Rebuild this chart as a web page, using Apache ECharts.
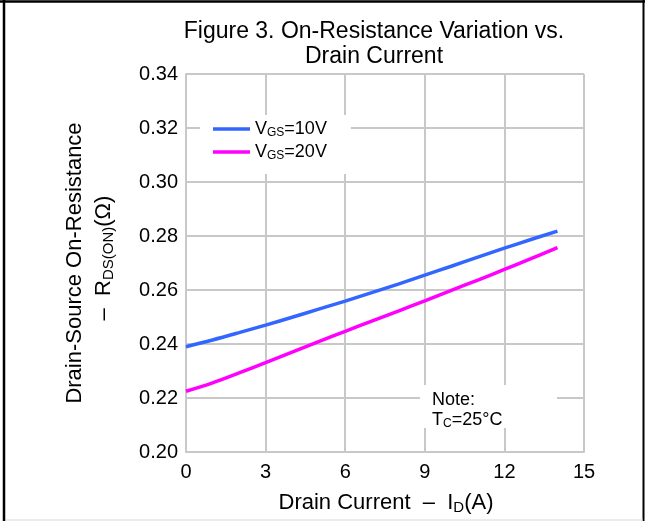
<!DOCTYPE html>
<html>
<head>
<meta charset="utf-8">
<script src="https://cdn.jsdelivr.net/npm/echarts@6/dist/echarts.min.js"></script>
<style>
html,body{margin:0;padding:0;background:#fff;}
#chart{width:645px;height:521px;}
</style>
</head>
<body>
<div id="chart"></div>
<script>
// ---- data ----
var currentA = [0, 1, 2, 3, 4, 5, 6, 7, 8, 9, 10, 11, 12, 13, 14];
var rdsVgs10 = [0.2390, 0.2415, 0.2442, 0.2470, 0.2499, 0.2529, 0.2559, 0.2590, 0.2622, 0.2655, 0.2688, 0.2722, 0.2755, 0.2787, 0.2818];
var rdsVgs20 = [0.2225, 0.2256, 0.2293, 0.2331, 0.2370, 0.2409, 0.2447, 0.2485, 0.2522, 0.2560, 0.2599, 0.2637, 0.2676, 0.2716, 0.2757];
var seriesNames = ['VGS=10V', 'VGS=20V'];
var xTicks = [0, 3, 6, 9, 12, 15];
var yTicks = [0.20, 0.22, 0.24, 0.26, 0.28, 0.30, 0.32, 0.34];

function pairs(xs, ys) { return xs.map(function (x, i) { return [x, ys[i]]; }); }

var FONT = '"Liberation Sans", Arial, sans-serif';
var chart = echarts.init(document.getElementById('chart'), null, { renderer: 'canvas' });

var gridColor = '#c8c8c8';

var option = {
  backgroundColor: '#ffffff',
  animation: false,
  grid: { left: 186, right: 61, top: 74, bottom: 69, containLabel: false },
  xAxis: {
    type: 'value',
    min: xTicks[0], max: xTicks[xTicks.length - 1], interval: 3,
    axisLine: { show: true, lineStyle: { color: gridColor, width: 2 } },
    axisTick: { show: false },
    splitLine: { show: true, lineStyle: { color: gridColor, width: 2 } },
    axisLabel: { color: '#000', fontFamily: FONT, fontSize: 20, margin: 10 }
  },
  yAxis: {
    type: 'value',
    min: yTicks[0], max: yTicks[yTicks.length - 1], interval: 0.02,
    axisLine: { show: true, lineStyle: { color: gridColor, width: 2 } },
    axisTick: { show: false },
    splitLine: { show: true, lineStyle: { color: gridColor, width: 2 } },
    axisLabel: { color: '#000', fontFamily: FONT, fontSize: 20, margin: 8,
      formatter: function (v) { return v.toFixed(2); } }
  },
  legend: {
    orient: 'vertical',
    left: 200, top: 115,
    padding: [5, 24, 12, 13],
    backgroundColor: '#ffffff',
    icon: 'rect',
    itemWidth: 37, itemHeight: 3.5, itemGap: 4,
    data: seriesNames,
    formatter: function (name) {
      return '{n|V}{s|GS}{n|' + name.slice(3) + '}';
    },
    textStyle: {
      rich: {
        n: { fontFamily: FONT, fontSize: 18, lineHeight: 20, color: '#000' },
        s: { fontFamily: FONT, fontSize: 12, lineHeight: 13, verticalAlign: 'bottom', color: '#000' }
      }
    }
  },
  series: [
    { name: seriesNames[0], type: 'line', smooth: 0.4, showSymbol: false, symbol: 'none',
      data: pairs(currentA, rdsVgs10), lineStyle: { color: '#3366ff', width: 3.5 }, itemStyle: { color: '#3366ff' }, z: 5 },
    { name: seriesNames[1], type: 'line', smooth: 0.4, showSymbol: false, symbol: 'none',
      data: pairs(currentA, rdsVgs20), lineStyle: { color: '#ff00ff', width: 3.5 }, itemStyle: { color: '#ff00ff' }, z: 5 }
  ],
  graphic: [
    // outer frame
    { type: 'line', z: 100, shape: { x1: 4, y1: 0, x2: 4, y2: 521 }, style: { stroke: '#000', lineWidth: 2.5 } },
    { type: 'line', z: 100, shape: { x1: 0, y1: 1.5, x2: 645, y2: 1.5 }, style: { stroke: '#000', lineWidth: 2.5 } },
    { type: 'line', z: 100, shape: { x1: 643.5, y1: 0, x2: 643.5, y2: 521 }, style: { stroke: '#000', lineWidth: 2 } },
    { type: 'line', z: 100, shape: { x1: 6, y1: 520, x2: 643, y2: 520 }, style: { stroke: '#d8d8d8', lineWidth: 1 } },
    // title
    { type: 'text', z: 100, x: 374, y: 32, style: { text: 'Figure 3. On-Resistance Variation vs.', font: '23px ' + FONT, fill: '#000', align: 'center', verticalAlign: 'middle' } },
    { type: 'text', z: 100, x: 374, y: 57, style: { text: 'Drain Current', font: '23px ' + FONT, fill: '#000', align: 'center', verticalAlign: 'middle' } },
    // y axis title
    { type: 'text', z: 100, x: 75, y: 263, rotation: Math.PI / 2,
      style: { text: 'Drain-Source On-Resistance', font: '22px ' + FONT, fill: '#000', align: 'center', verticalAlign: 'middle' } },
    { type: 'text', z: 100, x: 104, y: 258, rotation: Math.PI / 2,
      style: { text: '{n|–  R}{s|DS(ON)}{n|(Ω)}', align: 'center', verticalAlign: 'middle',
        rich: {
          n: { fontFamily: FONT, fontSize: 22, lineHeight: 24, fill: '#000', color: '#000' },
          s: { fontFamily: FONT, fontSize: 15, lineHeight: 15, verticalAlign: 'bottom', fill: '#000', color: '#000' }
        } } },
    // x axis title
    { type: 'text', z: 100, x: 386, y: 503,
      style: { text: '{n|Drain Current  –  I}{s|D}{n|(A)}', align: 'center', verticalAlign: 'middle',
        rich: {
          n: { fontFamily: FONT, fontSize: 22, lineHeight: 24, fill: '#000', color: '#000' },
          s: { fontFamily: FONT, fontSize: 15, lineHeight: 15, verticalAlign: 'bottom', fill: '#000', color: '#000' }
        } } },
    // note box
    { type: 'rect', z: 50, shape: { x: 420, y: 385, width: 137, height: 43 }, style: { fill: '#fff' } },
    { type: 'text', z: 100, x: 432, y: 400,
      style: { text: 'Note:', font: '18px ' + FONT, fill: '#000', align: 'left', verticalAlign: 'middle' } },
    { type: 'text', z: 100, x: 432, y: 420,
      style: { text: '{n|T}{s|C}{n|=25°C}', align: 'left', verticalAlign: 'middle',
        rich: {
          n: { fontFamily: FONT, fontSize: 18, lineHeight: 20, fill: '#000', color: '#000' },
          s: { fontFamily: FONT, fontSize: 12, lineHeight: 13, verticalAlign: 'bottom', fill: '#000', color: '#000' }
        } } }
  ]
};
chart.setOption(option);
</script>
</body>
</html>
